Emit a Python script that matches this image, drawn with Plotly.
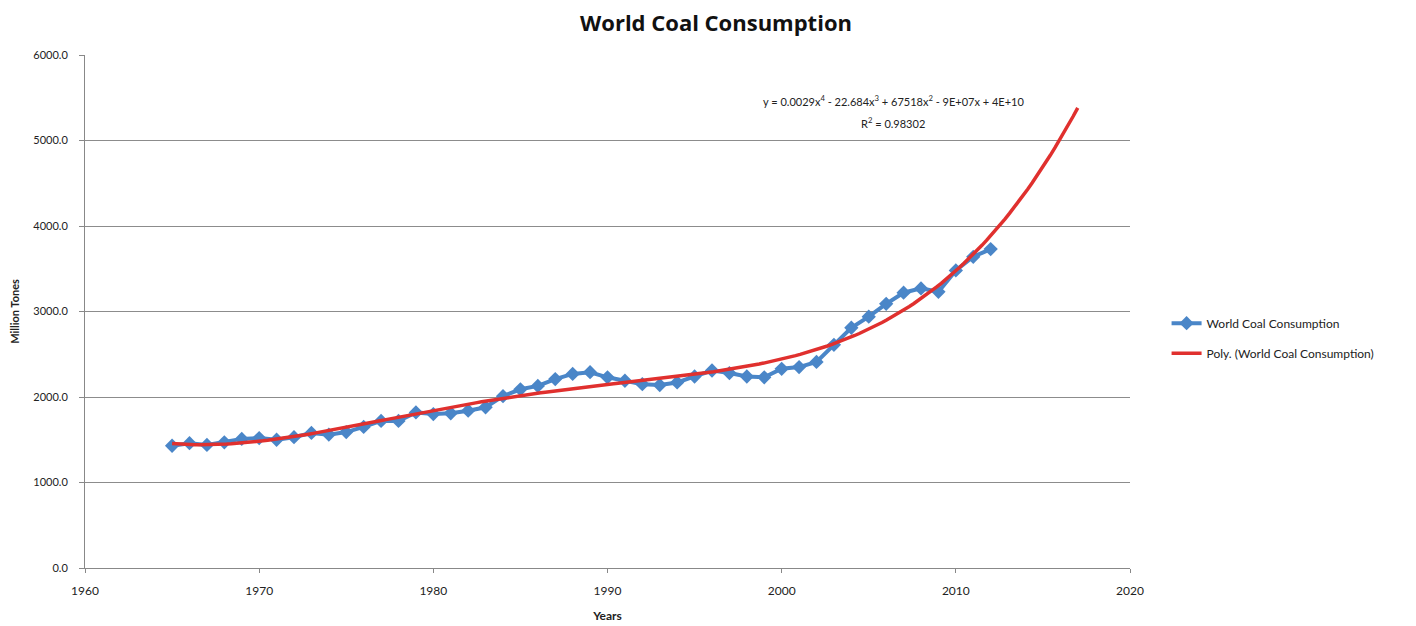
import numpy as np
import plotly.graph_objects as go

years = list(range(1965, 2013))
consumption = [1430, 1460, 1440, 1470, 1510, 1520, 1500, 1530, 1580, 1560,
               1590, 1650, 1720, 1720, 1820, 1800, 1810, 1840, 1880, 2010,
               2090, 2130, 2210, 2270, 2290, 2230, 2190, 2150, 2140, 2170,
               2240, 2310, 2280, 2240, 2230, 2330, 2350, 2410, 2610, 2810,
               2940, 3090, 3220, 3270, 3230, 3480, 3640, 3730]
y_ticks = [0, 1000, 2000, 3000, 4000, 5000, 6000]
x_ticks = [1960, 1970, 1980, 1990, 2000, 2010, 2020]
equation = "y = 0.0029x<sup>4</sup> - 22.684x<sup>3</sup> + 67518x<sup>2</sup> - 9E+07x + 4E+10"
r2_text = "R<sup>2</sup> = 0.98302"

# Polynomial (order 4) trendline, fitted to the data, forecast 5 periods forward
xa = np.array(years, dtype=float)
ya = np.array(consumption, dtype=float)
coef = np.polyfit(xa - 1990.0, ya, 4)
trend_x = np.linspace(1965, 2017, 200)
trend_y = np.polyval(coef, trend_x - 1990.0)

font = "Lato, 'Open Sans', sans-serif"

fig = go.Figure()
fig.add_trace(go.Scatter(
    x=years, y=consumption, mode="lines+markers",
    name="World Coal Consumption", legendgroup="a",
    line=dict(color="#4A86C8", width=4),
    marker=dict(symbol="diamond", size=11, color="#4A86C8"),
))
fig.add_trace(go.Scatter(
    x=trend_x, y=trend_y, mode="lines",
    name="Poly. (World Coal Consumption)", legendgroup="b",
    line=dict(color="#E0302E", width=3.5),
))

fig.add_annotation(xref="x", yref="y", x=2006.4, y=5470, text=equation,
                   showarrow=False, font=dict(size=11, color="#222", family=font))
fig.add_annotation(xref="x", yref="y", x=2006.4, y=5210, text=r2_text,
                   showarrow=False, font=dict(size=11, color="#222", family=font))

fig.update_layout(
    width=1416, height=626,
    paper_bgcolor="white", plot_bgcolor="white",
    margin=dict(l=77, r=294, t=47, b=66),
    title=dict(text="<b>World Coal Consumption</b>", x=0.5, xanchor="center",
               y=0.976, yanchor="middle", pad=dict(t=0, b=0),
               font=dict(size=22, color="#111", family="'Open Sans', sans-serif")),
    font=dict(family=font, size=11, color="#222"),
    legend=dict(x=1.035, y=0.448, xanchor="left", yanchor="middle",
                font=dict(size=12, color="#222", family=font),
                bgcolor="rgba(0,0,0,0)", tracegroupgap=11),
    showlegend=True,
)
fig.update_xaxes(
    range=[1960, 2020], tickvals=x_ticks, ticks="outside", ticklen=4,
    tickcolor="#888", showline=True, linecolor="#888", linewidth=1,
    showgrid=False, zeroline=False, ticklabelstandoff=8, automargin=False,
    title=dict(text="<b>Years</b>", font=dict(size=12, family=font), standoff=14),
    tickfont=dict(size=12, color="#222"),
)
fig.update_yaxes(
    range=[0, 6000], tickvals=y_ticks, tickformat=".1f", ticks="outside", ticklen=5,
    tickcolor="#888", showline=True, linecolor="#888", linewidth=1,
    showgrid=True, gridcolor="#8c8c8c", gridwidth=1, zeroline=False,
    ticklabelstandoff=9, automargin=False,
    title=dict(text="<b>Million Tones</b>", font=dict(size=11, family=font), standoff=16),
    tickfont=dict(size=11, color="#222"),
)
fig.write_html("out.html")
